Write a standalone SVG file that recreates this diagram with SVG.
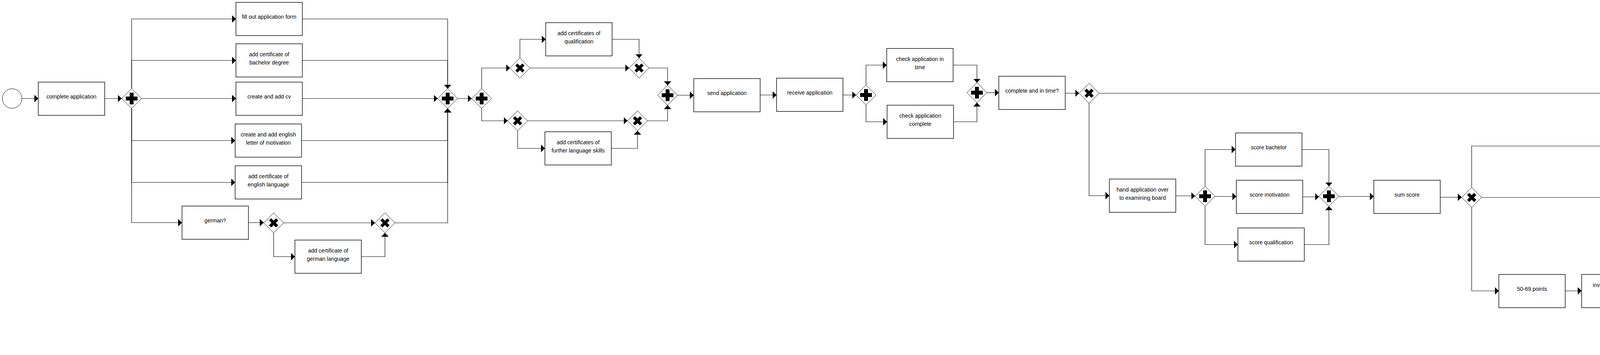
<svg xmlns="http://www.w3.org/2000/svg" xmlns:xlink="http://www.w3.org/1999/xlink" width="7046" height="908" viewBox="0 0 7046 908">
<style>
.task rect{fill:#fff;stroke:#000;stroke-width:1.4}
.task text{font-family:"Liberation Sans",Arial,sans-serif;font-size:14px;text-anchor:middle;fill:#000}
.flows path{fill:none;stroke:#000;stroke-width:1.2;marker-end:url(#arr)}
</style>
<defs>
<marker id="arr" markerUnits="userSpaceOnUse" markerWidth="11" markerHeight="20" refX="10" refY="9.5" orient="auto">
<path d="M0,0 L10,9.5 L0,19 z" fill="#000"/>
</marker>
<polygon id="dia" points="0,-25.5 25.5,0 0,25.5 -25.5,0" fill="#fff" stroke="#000" stroke-width="1"/>
<g id="plus"><rect x="-15" y="-5" width="30" height="10" fill="#000"/><rect x="-5" y="-15" width="10" height="30" fill="#000"/></g>
<path id="xor" d="M-9,-9 L9,9 M-9,9 L9,-9" stroke="#000" stroke-width="8" fill="none"/>
</defs>
<rect width="7046" height="908" fill="#fff"/>

<g id="start"><circle cx="31" cy="252" r="25" fill="#fff" stroke="#000" stroke-width="1"/></g>
<g id="end"><circle cx="7016" cy="248" r="25" fill="#fff" stroke="#000" stroke-width="4"/></g>

<g id="t1" class="task"><rect x="98" y="210" width="170" height="85"/><text x="183" y="252">complete application</text></g>
<g id="t2" class="task"><rect x="604" y="6" width="170" height="85"/><text x="689" y="48">fill out application form</text></g>
<g id="t3" class="task"><rect x="604" y="112" width="170" height="85"/><text x="689" y="144">add certificate of</text><text x="689" y="165">bachelor degree</text></g>
<g id="t4" class="task"><rect x="604" y="210" width="170" height="85"/><text x="689" y="252">create and add cv</text></g>
<g id="t5" class="task"><rect x="602" y="317" width="170" height="85"/><text x="687" y="349">create and add english</text><text x="687" y="370">letter of motivation</text></g>
<g id="t6" class="task"><rect x="602" y="424" width="170" height="85"/><text x="687" y="456">add certificate of</text><text x="687" y="477">english language</text></g>
<g id="t7" class="task"><rect x="466" y="527" width="170" height="85"/><text x="551" y="569">german?</text></g>
<g id="t8" class="task"><rect x="755" y="614" width="170" height="85"/><text x="840" y="646">add certificate of</text><text x="840" y="667">german language</text></g>
<g id="t9" class="task"><rect x="1397" y="58" width="170" height="85"/><text x="1482" y="90">add certificates of</text><text x="1482" y="111">qualification</text></g>
<g id="t10" class="task"><rect x="1395" y="337" width="170" height="85"/><text x="1480" y="369">add certificates of</text><text x="1480" y="390">further language skills</text></g>
<g id="t11" class="task"><rect x="1776" y="201" width="170" height="85"/><text x="1861" y="243">send application</text></g>
<g id="t12" class="task"><rect x="1988" y="200" width="170" height="85"/><text x="2073" y="242">receive application</text></g>
<g id="t13" class="task"><rect x="2270" y="124" width="170" height="85"/><text x="2355" y="156">check application in</text><text x="2355" y="177">time</text></g>
<g id="t14" class="task"><rect x="2271" y="269" width="170" height="85"/><text x="2356" y="301">check application</text><text x="2356" y="322">complete</text></g>
<g id="t15" class="task"><rect x="2557" y="195" width="170" height="85"/><text x="2642" y="237">complete and in time?</text></g>
<g id="t16" class="task"><rect x="2840" y="458" width="170" height="85"/><text x="2925" y="490">hand application over</text><text x="2925" y="511">to examining board</text></g>
<g id="t17" class="task"><rect x="3163" y="340" width="170" height="85"/><text x="3248" y="382">score bachelor</text></g>
<g id="t18" class="task"><rect x="3165" y="461" width="170" height="85"/><text x="3250" y="503">score motivation</text></g>
<g id="t19" class="task"><rect x="3169" y="583" width="170" height="85"/><text x="3254" y="625">score qualification</text></g>
<g id="t20" class="task"><rect x="3517" y="461" width="170" height="85"/><text x="3602" y="503">sum score</text></g>
<g id="t21" class="task"><rect x="4663" y="331" width="170" height="85"/><text x="4748" y="373">more than 70 points</text></g>
<g id="t22" class="task"><rect x="4663" y="461" width="170" height="85"/><text x="4748" y="503">less than 50 points</text></g>
<g id="t23" class="task"><rect x="3837" y="702" width="170" height="85"/><text x="3922" y="744">50-69 points</text></g>
<g id="t24" class="task"><rect x="4049" y="702" width="170" height="85"/><text x="4134" y="734">invite applicant for</text><text x="4134" y="755">appointment</text></g>
<g id="t25" class="task"><rect x="4267" y="699" width="170" height="85"/><text x="4352" y="741">appoint applicant</text></g>
<g id="t26" class="task"><rect x="4487" y="702" width="170" height="85"/><text x="4572" y="744">take interview</text></g>
<g id="t27" class="task"><rect x="4710" y="702" width="170" height="85"/><text x="4795" y="744">make decision</text></g>
<g id="t28" class="task"><rect x="5168" y="591" width="170" height="85"/><text x="5253" y="633">applicant not qualified</text></g>
<g id="t29" class="task"><rect x="5170" y="699" width="170" height="85"/><text x="5255" y="741">applicant qualified</text></g>
<g id="t30" class="task"><rect x="5071" y="819" width="170" height="85"/><text x="5156" y="851">applicant qualified</text><text x="5156" y="872">under constraints</text></g>
<g id="t31" class="task"><rect x="5288" y="816" width="170" height="85"/><text x="5373" y="848">attach additional</text><text x="5373" y="869">requirements</text></g>
<g id="t32" class="task"><rect x="6077" y="84" width="170" height="85"/><text x="6162" y="126">reject application</text></g>
<g id="t33" class="task"><rect x="6339" y="84" width="170" height="85"/><text x="6424" y="126">send rejection</text></g>
<g id="t34" class="task"><rect x="6570" y="85" width="170" height="85"/><text x="6655" y="127">receive rejection</text></g>
<g id="t35" class="task"><rect x="5978" y="331" width="170" height="85"/><text x="6063" y="373">accept application</text></g>
<g id="t36" class="task"><rect x="6217" y="332" width="170" height="85"/><text x="6302" y="374">send acceptance</text></g>
<g id="t37" class="task"><rect x="6455" y="331" width="170" height="85"/><text x="6540" y="373">receive acceptance</text></g>
<g id="t38" class="task"><rect x="6669" y="328" width="170" height="85"/><text x="6754" y="370">immatriculate</text></g>

<g id="g1" transform="translate(337,252)"><use xlink:href="#dia" href="#dia"/><use xlink:href="#plus" href="#plus"/></g>
<g id="g2" transform="translate(700.5,570)"><use xlink:href="#dia" href="#dia"/><use xlink:href="#xor" href="#xor"/></g>
<g id="g3" transform="translate(985.5,570)"><use xlink:href="#dia" href="#dia"/><use xlink:href="#xor" href="#xor"/></g>
<g id="g4" transform="translate(1146,252)"><use xlink:href="#dia" href="#dia"/><use xlink:href="#plus" href="#plus"/></g>
<g id="g5" transform="translate(1233,252)"><use xlink:href="#dia" href="#dia"/><use xlink:href="#plus" href="#plus"/></g>
<g id="g6" transform="translate(1331,174)"><use xlink:href="#dia" href="#dia"/><use xlink:href="#xor" href="#xor"/></g>
<g id="g7" transform="translate(1325,309)"><use xlink:href="#dia" href="#dia"/><use xlink:href="#xor" href="#xor"/></g>
<g id="g8" transform="translate(1636,174)"><use xlink:href="#dia" href="#dia"/><use xlink:href="#xor" href="#xor"/></g>
<g id="g9" transform="translate(1632,309)"><use xlink:href="#dia" href="#dia"/><use xlink:href="#xor" href="#xor"/></g>
<g id="g10" transform="translate(1709,243.5)"><use xlink:href="#dia" href="#dia"/><use xlink:href="#plus" href="#plus"/></g>
<g id="g11" transform="translate(2217,243)"><use xlink:href="#dia" href="#dia"/><use xlink:href="#plus" href="#plus"/></g>
<g id="g12" transform="translate(2501,237)"><use xlink:href="#dia" href="#dia"/><use xlink:href="#plus" href="#plus"/></g>
<g id="g13" transform="translate(2788,238.5)"><use xlink:href="#dia" href="#dia"/><use xlink:href="#xor" href="#xor"/></g>
<g id="g14" transform="translate(3085,502)"><use xlink:href="#dia" href="#dia"/><use xlink:href="#plus" href="#plus"/></g>
<g id="g15" transform="translate(3402,502)"><use xlink:href="#dia" href="#dia"/><use xlink:href="#plus" href="#plus"/></g>
<g id="g16" transform="translate(3767.5,505)"><use xlink:href="#dia" href="#dia"/><use xlink:href="#xor" href="#xor"/></g>
<g id="g17" transform="translate(4949,744)"><use xlink:href="#dia" href="#dia"/><use xlink:href="#xor" href="#xor"/></g>
<g id="g18" transform="translate(5533,744)"><use xlink:href="#dia" href="#dia"/><use xlink:href="#xor" href="#xor"/></g>
<g id="g19" transform="translate(5637,505)"><use xlink:href="#dia" href="#dia"/><use xlink:href="#xor" href="#xor"/></g>
<g id="g20" transform="translate(5754.5,238.5)"><use xlink:href="#dia" href="#dia"/><use xlink:href="#xor" href="#xor"/></g>
<g id="g21" transform="translate(5872,238.5)"><use xlink:href="#dia" href="#dia"/><use xlink:href="#xor" href="#xor"/></g>
<g id="g22" transform="translate(6910.5,249)"><use xlink:href="#dia" href="#dia"/><use xlink:href="#xor" href="#xor"/></g>

<g id="connectors" class="flows">
<path d="M56,252 H98"/>
<path d="M268,252 H311.5"/>
<path d="M337,226.5 V48.5 H604"/>
<path d="M337,226.5 V154.5 H604"/>
<path d="M362.5,252 H604"/>
<path d="M337,277.5 V359.5 H602"/>
<path d="M337,277.5 V466.5 H602"/>
<path d="M337,277.5 V569.5 H466"/>
<path d="M636,569.5 H675"/>
<path d="M726,570 H960"/>
<path d="M700.5,595.5 V656.5 H755"/>
<path d="M925,656.5 H985.5 V595.5"/>
<path d="M1011,570 H1146 V277.5"/>
<path d="M774,48.5 H1146 V226.5"/>
<path d="M774,154.5 H1146 V226.5"/>
<path d="M774,252 H1120.5"/>
<path d="M772,359.5 H1146 V277.5"/>
<path d="M772,466.5 H1146 V277.5"/>
<path d="M1171.5,252 H1207.5"/>
<path d="M1233,226.5 V174 H1305.5"/>
<path d="M1233,277.5 V309 H1299.5"/>
<path d="M1331,148.5 V100.5 H1397"/>
<path d="M1356.5,174 H1610.5"/>
<path d="M1567,100.5 H1636 V148.5"/>
<path d="M1350.5,309 H1606.5"/>
<path d="M1325,334.5 V379.5 H1395"/>
<path d="M1565,379.5 H1632 V334.5"/>
<path d="M1661.5,174 H1709 V218"/>
<path d="M1657.5,309 H1709 V269"/>
<path d="M1734.5,243.5 H1776"/>
<path d="M1946,243 H1988"/>
<path d="M2158,243 H2191.5"/>
<path d="M2217,217.5 V166.5 H2270"/>
<path d="M2217,268.5 V311.5 H2271"/>
<path d="M2440,166.5 H2501 V211.5"/>
<path d="M2441,311.5 H2501 V262.5"/>
<path d="M2526.5,237 H2557"/>
<path d="M2727,238.5 H2762.5"/>
<path d="M2813.5,238.5 H5729"/>
<path d="M2788,264 V500.5 H2840"/>
<path d="M3010,501 H3059.5"/>
<path d="M3085,476.5 V382.5 H3163"/>
<path d="M3110.5,502.5 H3165"/>
<path d="M3085,527.5 V625.5 H3169"/>
<path d="M3333,382.5 H3402 V476.5"/>
<path d="M3335,503.5 H3376.5"/>
<path d="M3339,625.5 H3402 V527.5"/>
<path d="M3427.5,502.5 H3517"/>
<path d="M3687,504.5 H3742"/>
<path d="M3767.5,479.5 V373.5 H4663"/>
<path d="M3793,505 H4663"/>
<path d="M3767.5,530.5 V744 H3837"/>
<path d="M4007,744 H4049"/>
<path d="M4219,743 H4267"/>
<path d="M4437,742.5 H4487"/>
<path d="M4657,744 H4710"/>
<path d="M4880,744 H4923.5"/>
<path d="M4949,718.5 V633.5 H5168"/>
<path d="M4974.5,743 H5170"/>
<path d="M4949,769.5 V861 H5071"/>
<path d="M5241,861 H5288"/>
<path d="M5338,633.5 H5533 V718.5"/>
<path d="M5340,742.5 H5507.5"/>
<path d="M5458,859 H5533 V769.5"/>
<path d="M5558.5,744 H5637 V530.5"/>
<path d="M4833,373.5 H5637 V479.5"/>
<path d="M4833,504.5 H5611.5"/>
<path d="M5662.5,505 H5754.5 V264"/>
<path d="M5780,238.5 H5846.5"/>
<path d="M5872,213 V126.5 H6077"/>
<path d="M5872,264 V373.5 H5978"/>
<path d="M6247,126.5 H6339"/>
<path d="M6509,127 H6570"/>
<path d="M6740,128 H6910.5 V223.5"/>
<path d="M6148,373.5 H6217"/>
<path d="M6387,374.5 H6455"/>
<path d="M6625,373.5 H6669"/>
<path d="M6839,370.5 H6910.5 V274.5"/>
<path d="M6936,249 H6990"/>
</g>
</svg>
